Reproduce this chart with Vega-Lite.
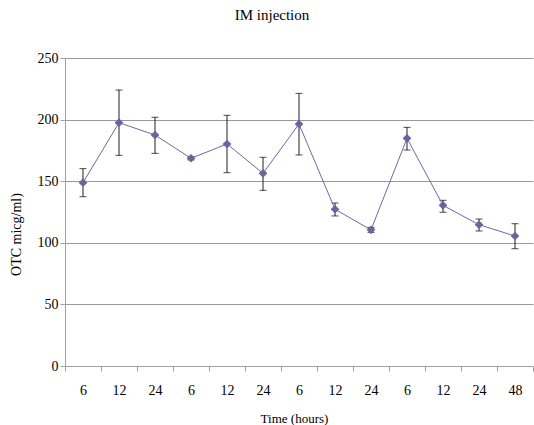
{
  "$schema": "https://vega.github.io/schema/vega-lite/v6.json",
  "autosize": "none",
  "width": 468,
  "height": 308,
  "padding": {"left": 65, "top": 58, "right": 1, "bottom": 59},
  "background": "white",
  "title": {"text": "IM injection", "font": "Liberation Serif", "fontSize": 15, "fontWeight": "normal", "color": "black", "anchor": "middle", "dx": -27, "offset": 28},
  "config": {
    "view": {"stroke": null},
    "font": "Liberation Serif"
  },
  "data": {"values": [
    {"k": "6_1", "v": 148.8, "lo": 137.4, "hi": 160.2},
    {"k": "12_1", "v": 197.5, "lo": 171, "hi": 224},
    {"k": "24_1", "v": 187.5, "lo": 172.6, "hi": 201.9},
    {"k": "6_2", "v": 168.6, "lo": 167.3, "hi": 169.9},
    {"k": "12_2", "v": 180.2, "lo": 156.9, "hi": 203.5},
    {"k": "24_2", "v": 156.4, "lo": 142.6, "hi": 169.4},
    {"k": "6_3", "v": 196.4, "lo": 171.3, "hi": 221.3},
    {"k": "12_3", "v": 127.2, "lo": 121.8, "hi": 132.3},
    {"k": "24_3", "v": 110.5, "lo": 108.5, "hi": 112.5},
    {"k": "6_4", "v": 184.8, "lo": 175.3, "hi": 193.7},
    {"k": "12_4", "v": 130.4, "lo": 124.8, "hi": 134.5},
    {"k": "24_4", "v": 114.7, "lo": 109.6, "hi": 119.3},
    {"k": "48_1", "v": 105.5, "lo": 95.2, "hi": 115.5}
  ]},
  "encoding": {
    "x": {"field": "k", "type": "nominal", "sort": null,
      "scale": {"paddingInner": 0, "paddingOuter": 0},
      "axis": {"title": "Time (hours)", "labelExpr": "split(datum.label, '_')[0]", "labelAngle": 0,
        "labelFont": "Liberation Serif", "labelFontSize": 14, "labelColor": "black", "labelPadding": 12,
        "tickBand": "extent", "tickSize": 5, "tickColor": "#a0a0a0", "domainColor": "#a0a0a0",
        "titleFont": "Liberation Serif", "titleFontSize": 13, "titleFontWeight": "normal", "titleColor": "black",
        "titleX": 229, "titleY": 52, "titleBaseline": "middle", "grid": false}
    }
  },
  "layer": [
    {
      "mark": {"type": "rule", "color": "#202020", "strokeWidth": 1},
      "encoding": {
        "y": {"field": "lo", "type": "quantitative",
          "scale": {"domain": [0, 250], "nice": false},
          "axis": {"title": "OTC micg/ml)", "values": [0, 50, 100, 150, 200, 250],
            "labelFont": "Liberation Serif", "labelFontSize": 14, "labelColor": "black", "labelPadding": 2,
            "tickSize": 5, "tickColor": "#a0a0a0", "domainColor": "#a0a0a0",
            "grid": true, "gridColor": "#999999", "gridWidth": 1,
            "titleFont": "Liberation Serif", "titleFontSize": 14, "titleFontWeight": "normal", "titleColor": "black",
            "titleX": -49, "titleY": 176, "titleAngle": -90, "titleBaseline": "middle", "titleAlign": "center"}},
        "y2": {"field": "hi"}
      }
    },
    {
      "mark": {"type": "tick", "color": "black", "size": 7, "thickness": 1},
      "encoding": {"y": {"field": "lo", "type": "quantitative"}}
    },
    {
      "mark": {"type": "tick", "color": "black", "size": 7, "thickness": 1},
      "encoding": {"y": {"field": "hi", "type": "quantitative"}}
    },
    {
      "mark": {"type": "line", "color": "#6a6aa6", "strokeWidth": 1},
      "encoding": {"y": {"field": "v", "type": "quantitative"}}
    },
    {
      "mark": {"type": "point", "shape": "diamond", "filled": true, "color": "#66669e", "opacity": 1, "size": 75},
      "encoding": {"y": {"field": "v", "type": "quantitative"}}
    }
  ]
}
